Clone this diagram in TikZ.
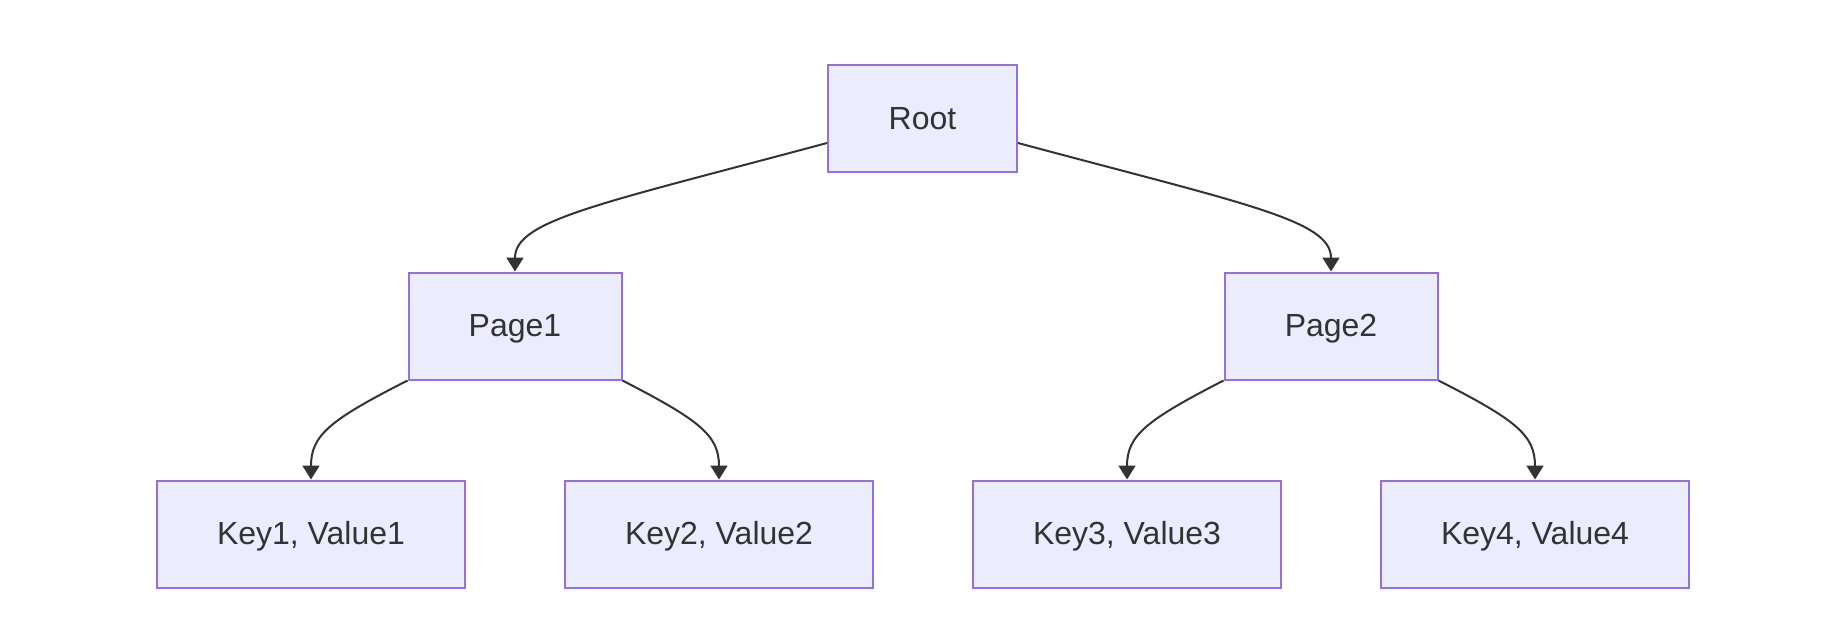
\documentclass[tikz,border=0pt]{standalone}
\usepackage{fontspec}
\setmainfont{Liberation Sans}
\usetikzlibrary{arrows.meta}
\definecolor{boxfill}{HTML}{ECECFF}
\definecolor{boxline}{HTML}{9370DB}
\definecolor{linkcol}{HTML}{333333}

\begin{document}
\begin{tikzpicture}[x=0.5pt,y=-0.5pt,>={Triangle[length=7pt,width=8.5pt]},
  box/.style={draw=boxline,fill=boxfill,line width=1pt,minimum height=53.5pt,
    text=linkcol,font=\fontsize{16}{19}\selectfont,inner sep=0pt,
    text height=10.8pt,text depth=0pt},
  link/.style={draw=linkcol,line width=1pt,->}]

  % 画布大小(与参考图同比例)
  \useasboundingbox (0,0) rectangle (1824,638);

  % 根节点
  \node[box,minimum width=94.5pt] (root) at (922.5,118.5) {Root};

  % 第二层:两个页
  \node[box,minimum width=106.5pt] (page1) at (515,326) {Page1};
  \node[box,minimum width=106.5pt] (page2) at (1331,326) {Page2};

  % 第三层:四个键值对
  \node[box,minimum width=154pt] (kv1) at (311,534) {Key1, Value1};
  \node[box,minimum width=154pt] (kv2) at (719,534) {Key2, Value2};
  \node[box,minimum width=154pt] (kv3) at (1127,534) {Key3, Value3};
  \node[box,minimum width=154pt] (kv4) at (1535,534) {Key4, Value4};

  % 根 -> 页
  \draw[link] ([yshift=-12.25pt]root.west) .. controls (600,204) and (515,220) .. (page1.north);
  \draw[link] ([yshift=-12.25pt]root.east) .. controls (1245,204) and (1331,220) .. (page2.north);

  % 页 -> 键值对
  \draw[link] (page1.south west) .. controls (330,420) and (311,435) .. (kv1.north);
  \draw[link] (page1.south east) .. controls (699,420) and (719,435) .. (kv2.north);
  \draw[link] (page2.south west) .. controls (1147,420) and (1127,435) .. (kv3.north);
  \draw[link] (page2.south east) .. controls (1516,420) and (1535,435) .. (kv4.north);

\end{tikzpicture}
\end{document}
